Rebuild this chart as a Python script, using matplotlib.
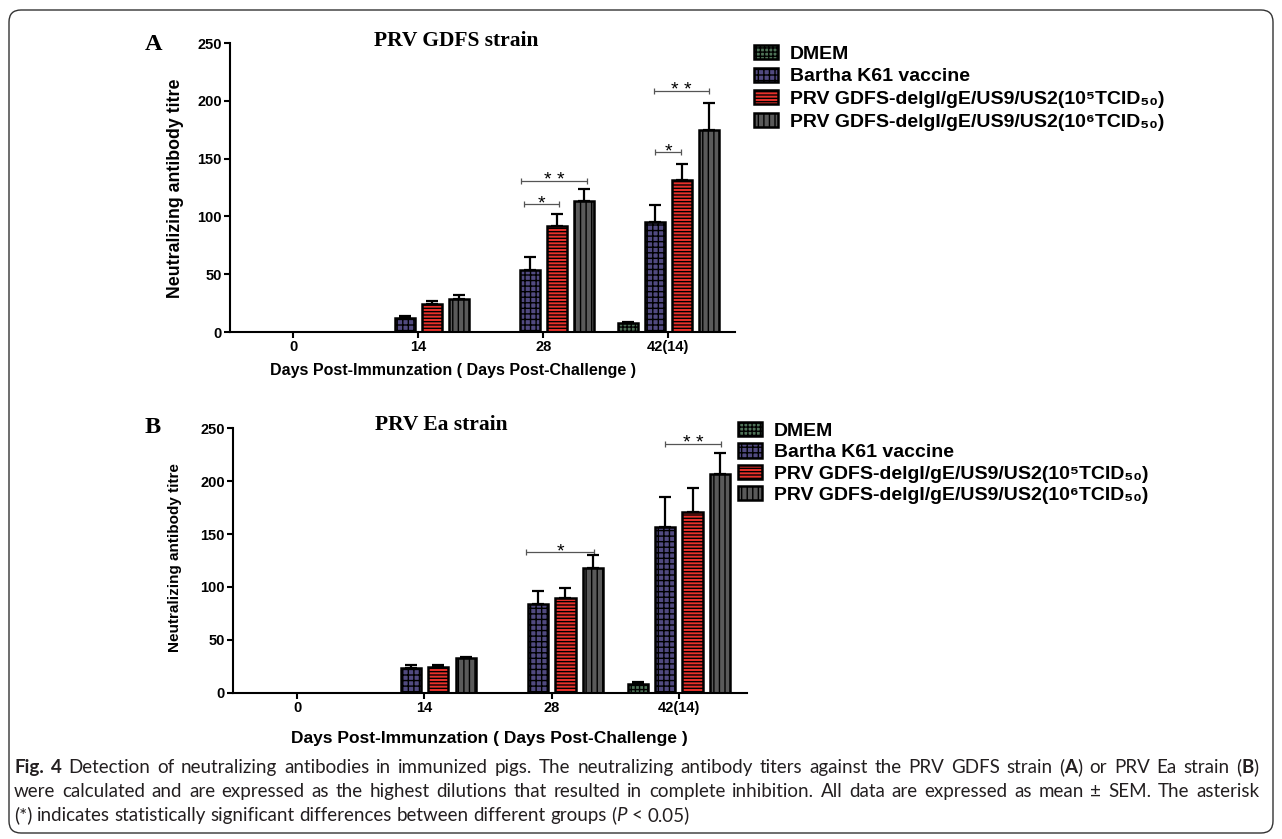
import re
import numpy as np
from matplotlib import pyplot as plt
from matplotlib.patches import Patch, FancyBboxPatch

plt.rcParams['font.family'] = ['Liberation Sans', 'DejaVu Sans']
plt.rcParams['hatch.linewidth'] = 1.0

W, H = 1282, 839

days = ['0', '14', '28', '42(14)']
groups = ['DMEM', 'Bartha K61 vaccine',
          'PRV GDFS-delgI/gE/US9/US2(10\u2075TCID\u2085\u2080)',
          'PRV GDFS-delgI/gE/US9/US2(10\u2076TCID\u2085\u2080)']

# panel A - PRV GDFS strain
vals_a = [[0, 0, 0, 7.5],
          [0, 12, 54, 95],
          [0, 24, 92, 131.5],
          [0, 28.5, 113, 174.5]]
errs_a = [[0, 0, 0, 1],
          [0, 1.5, 10.5, 14.5],
          [0, 2.5, 10, 13.5],
          [0, 3.5, 11, 24]]
# (day index, left offset, right offset, height, label)
sig_a = [(2, -0.178, 0.352, 131, '* *'),
         (2, -0.152, 0.128, 110.5, '*'),
         (3, -0.112, 0.328, 208.5, '* *'),
         (3, -0.104, 0.104, 155.5, '*')]

# panel B - PRV Ea strain
vals_b = [[0, 0, 0, 8],
          [0, 23.5, 83.5, 157],
          [0, 24, 90, 171],
          [0, 32.5, 118, 207]]
errs_b = [[0, 0, 0, 2],
          [0, 2.5, 12.5, 28.5],
          [0, 2.5, 9, 23],
          [0, 1.5, 12, 20]]
sig_b = [(2, -0.2, 0.335, 133, '*'),
         (3, -0.112, 0.332, 235, '* *')]

faces = ['#4f7358', '#514a80', '#e8312b', '#5a5a5a']
hatches = ['++++', '+++', '-----', '|||']
STEP = 0.216
WIDTH = 0.16

caption = [
    '**Fig. 4**  Detection of neutralizing antibodies in immunized pigs. The neutralizing antibody titers '
    'against the PRV GDFS strain (**A**) or PRV Ea strain (**B**)',
    'were calculated and are expressed as the highest dilutions that resulted in complete inhibition. '
    'All data are expressed as mean \u00b1 SEM. The asterisk',
    '(*) indicates statistically significant differences between different groups (__P__ < 0.05)',
]

fig = plt.figure(figsize=(W / 100, H / 100), dpi=100)


def px(x, y):
    return x / W, 1 - y / H


def panel(rect, vals, errs, sigs, tick_h):
    ax = fig.add_axes(rect)
    x = np.arange(len(days))
    for k in range(len(groups)):
        v = np.array(vals[k], dtype=float)
        e = np.array(errs[k], dtype=float)
        m = v > 0
        pos = x[m] + (k - 1.5) * STEP
        ax.bar(pos, v[m], WIDTH, color=faces[k], hatch=hatches[k],
               edgecolor='black', linewidth=1.8, zorder=2)
        ax.errorbar(pos, v[m], yerr=[np.zeros(m.sum()), e[m]], fmt='none',
                    ecolor='black', elinewidth=1.6, capsize=4.3, capthick=1.6, zorder=3)
    for g, a, b, yv, txt in sigs:
        x1, x2 = g + a, g + b
        ax.hlines(yv, x1, x2, color='#555555', lw=0.9, clip_on=False)
        ax.vlines([x1, x2], yv - tick_h, yv + tick_h, color='#555555', lw=0.9, clip_on=False)
        ax.annotate(txt, ((x1 + x2) / 2, yv), xytext=(0, -3), textcoords='offset points',
                    ha='center', va='baseline', fontsize=14, annotation_clip=False)
    ax.set_xlim(-0.505, 3.535)
    ax.set_ylim(0, 250)
    ax.set_yticks(range(0, 251, 50))
    ax.set_xticks(x, days)
    for s in ['top', 'right']:
        ax.spines[s].set_visible(False)
    for s in ['left', 'bottom']:
        ax.spines[s].set_linewidth(1.5)
    ax.tick_params(width=1.5, length=4.5, labelsize=10.5, pad=1.5)
    for lab in ax.get_xticklabels() + ax.get_yticklabels():
        lab.set_fontweight('bold')
    return ax


ax_a = panel([230 / W, 1 - 332 / H, 505 / W, 289 / H], vals_a, errs_a, sig_a, 2.6)
ax_b = panel([233 / W, 1 - 692.7 / H, 514 / W, 264.4 / H], vals_b, errs_b, sig_b, 2.8)

# labels, titles
fig.text(*px(145, 50), 'A', family='Liberation Serif', weight='bold', size=17.5, va='baseline')
fig.text(*px(145, 433), 'B', family='Liberation Serif', weight='bold', size=17.5, va='baseline')
fig.text(*px(374, 46), 'PRV GDFS strain', family='Liberation Serif', weight='bold', size=15.5, va='baseline')
fig.text(*px(375, 430), 'PRV Ea strain', family='Liberation Serif', weight='bold', size=15.5, va='baseline')
fig.text(*px(175, 188), 'Neutralizing antibody titre', rotation=90, ha='center', va='center',
         size=12.8, weight='bold')
fig.text(*px(175, 558), 'Neutralizing antibody titre', rotation=90, ha='center', va='center',
         size=11, weight='bold')
xlab = 'Days Post-Immunzation ( Days Post-Challenge )'
fig.text(*px(453, 375), xlab, ha='center', va='baseline', size=11.5, weight='bold')
fig.text(*px(489, 743), xlab, ha='center', va='baseline', size=12.5, weight='bold')

handles = [Patch(facecolor=faces[k], hatch=hatches[k], edgecolor='black', linewidth=1.8)
           for k in range(len(groups))]
for anchor, sp in [((754, 45), 0.24), ((738, 422), 0.18)]:
    fig.legend(handles, groups, loc='upper left', bbox_to_anchor=px(*anchor), frameon=False,
               borderpad=0, borderaxespad=0, handlelength=1.25, handleheight=0.75,
               handletextpad=0.6, labelspacing=sp,
               prop=dict(family=['Liberation Sans', 'DejaVu Sans'], weight='bold', size=14))

# outer frame
frame = FancyBboxPatch((0.09, 0.06), 12.64, 8.23, boxstyle='round,pad=0,rounding_size=0.12',
                       transform=fig.dpi_scale_trans, fill=False, edgecolor='#333333', linewidth=1.0)
fig.add_artist(frame)


def parse(line):
    words = [[]]
    for part in re.split(r'(\*\*[^*]+\*\*|__[^_]+__)', line):
        if not part:
            continue
        if part.startswith('**'):
            wt, st, s = 'bold', 'normal', part[2:-2]
        elif part.startswith('__'):
            wt, st, s = 'normal', 'italic', part[2:-2]
        else:
            wt, st, s = 'normal', 'normal', part
        for i, c in enumerate(s.split(' ')):
            if i > 0:
                words.append([])
            if c:
                words[-1].append((c, wt, st))
    return [w for w in words if w]


def draw_caption(lines, x0, x1, baselines, size):
    r = fig.canvas.get_renderer()
    for k, (line, yb) in enumerate(zip(lines, baselines)):
        words = parse(line)
        sz = size
        while True:
            arts, widths = [], []
            for w in words:
                segs = []
                for s, wt, st in w:
                    t = fig.text(0, 1 - yb / H, s, family=['Lato', 'DejaVu Sans'], weight=wt, style=st,
                                 size=sz, color='#231f20', va='baseline')
                    segs.append((t, t.get_window_extent(r).width))
                arts.append(segs)
                widths.append(sum(wd for _, wd in segs))
            space = sz * 100 / 72 * 0.25
            if k < len(lines) - 1:
                gap = (x1 - x0 - sum(widths)) / (len(words) - 1)
            else:
                gap = space
            if gap >= 0.55 * space or sz < 9:
                break
            for segs in arts:
                for t, _ in segs:
                    t.remove()
            sz -= 0.25
        x = x0
        for segs in arts:
            for t, wd in segs:
                t.set_x(x / W)
                x += wd
            x += gap


draw_caption(caption, 14, 1259, [773, 797, 821], 13.5)

fig.savefig('out.png', dpi=100)
